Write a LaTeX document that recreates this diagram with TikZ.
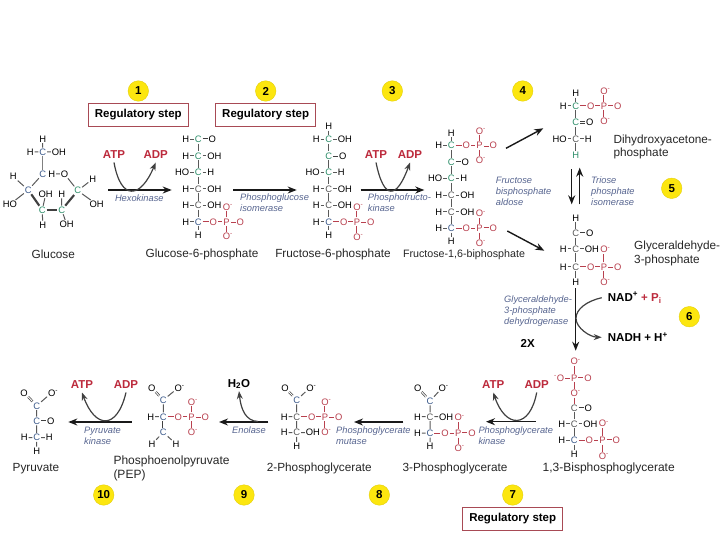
\documentclass[tikz,border=0pt]{standalone}
\usepackage{fontspec}
\setmainfont{Liberation Sans}
\usepackage{tikz}
\usetikzlibrary{positioning, arrows.meta}
\usepackage{xcolor}
\definecolor{cgreen}{HTML}{2F8F6B}
\definecolor{cblue}{HTML}{3E5C8C}
\definecolor{pred}{HTML}{B8404E}
\definecolor{labelred}{HTML}{BC2A3C}
\definecolor{enzblue}{HTML}{56648F}
\definecolor{boxred}{HTML}{A84A55}
\definecolor{badgey}{HTML}{FCE60F}
\newcommand{\Om}{O\rlap{\textsuperscript{-}}}

\begin{document}
\begin{tikzpicture}[
    x=1pt, y=-1pt,
    node distance=7.9pt and 3.7pt,
    atom/.style={font=\fontsize{9.4}{9.4}\selectfont, inner sep=0.8pt, text height=6.6pt, text depth=0pt, text=black},
    catg/.style={atom, text=cgreen},
    catb/.style={atom, text=cblue},
    catd/.style={atom, text=black!65},
    pat/.style={atom, text=pred},
    bond/.style={line width=1pt, black!65},
    dbond/.style={double=white, double distance=0.9pt, line width=0.7pt, black!75},
    wedge/.style={line width=2.1pt, black!75},
    pbond/.style={line width=1pt, pred},
    pdbond/.style={double=white, double distance=0.9pt, line width=0.7pt, pred},
    molname/.style={font=\fontsize{11.8}{13.6}\selectfont, align=left, inner sep=0pt, text=black!85},
    enzyme/.style={font=\fontsize{9.3}{11}\itshape, align=left, inner sep=0pt, anchor=west, text=enzblue},
    cofred/.style={font=\fontsize{11.5}{13}\bfseries, text=labelred},
    cofblack/.style={font=\fontsize{11.5}{13}\bfseries, text=black, anchor=west, inner xsep=6pt},
    badge/.style={circle, fill=badgey, draw=badgey!90!black, line width=0.4pt, minimum size=20.5pt, inner sep=0pt, font=\fontsize{11.5}{11.5}\bfseries},
    regbox/.style={draw=boxred, line width=1.1pt, minimum width=100pt, minimum height=22.5pt, inner sep=0pt, font=\fontsize{11.5}{13}\bfseries},
    flow/.style={line width=1.4pt, black!90, -{Stealth[length=9pt, width=7pt]}},
    cofactor/.style={line width=1.2pt, black!75},
    cofarrow/.style={cofactor, -{Stealth[length=8pt, width=6pt]}}
]
    \useasboundingbox (0,0) rectangle (720,540);

    % Step badges
    \node[badge] (step1) at (138.3,91) {1};
    \node[badge] (step2) at (265.7,91) {2};
    \node[badge] (step3) at (392.3,91) {3};
    \node[badge] (step4) at (522.7,91) {4};
    \node[badge] (step5) at (671.7,188.3) {5};
    \node[badge] (step6) at (689.3,316.7) {6};
    \node[badge] (step7) at (512.7,495) {7};
    \node[badge] (step8) at (379.3,495) {8};
    \node[badge] (step9) at (244,495) {9};
    \node[badge] (step10) at (103.7,495) {10};
    \node[regbox] (reg1) [below=1.6pt of step1] {Regulatory step};
    \node[regbox] (reg2) [below=1.6pt of step2] {Regulatory step};
    \node[regbox] (reg7) [below=1.6pt of step7] {Regulatory step};

    % Glucose
    \node[catb] (glc6) at (42.7,152) {C};
    \node[atom] (glh6) [above=4.6pt of glc6] {H};
    \node[atom] (gll6) [left=of glc6] {H};
    \node[atom] (glr6) [right=of glc6] {OH};
    \node[catb] (glc5) at (42.7,174) {C};
    \node[atom] (glh5) [right=0.3pt of glc5] {H};
    \node[atom] (glo5) [right=of glh5] {O};
    \node[catg] (glc1) at (77.7,190.7) {C};
    \node[atom] (glh1) at (92.7,179) {H};
    \node[atom] (glr1) at (96.7,204.3) {OH};
    \node[catb] (glc4) at (28.3,190) {C};
    \node[atom] (glh4) at (13.3,176.7) {H};
    \node[atom] (gll4) at (10,204.3) {HO};
    \node[catg] (glc3) at (42.3,210) {C};
    \node[atom] (glu3) at (45.7,194) {OH};
    \node[atom] (gld3) at (42.7,225) {H};
    \node[catg] (glc2) at (61.7,210) {C};
    \node[atom] (glu2) at (61.7,194) {H};
    \node[atom] (gld2) at (66.7,224.3) {OH};
    \draw[bond] (glh6) -- (glc6) (gll6) -- (glc6) (glc6) -- (glr6) (glh5) -- (glo5) (glo5) -- (glc1) (glc5) -- (glc4);
    \draw[bond] (glc1) -- (glh1) (glc1) -- (glr1) (glc4) -- (glh4) (glc4) -- (gll4);
    \draw[bond] (glc3) -- (glu3) (glc3) -- (gld3) (glc2) -- (glu2) (glc2) -- (gld2);
    \draw[line width=1.5pt, black!50] (glc6) -- (glc5);
    \draw[wedge] (glc4) -- (glc3);
    \draw[wedge] (glc3) -- (glc2);
    \draw[wedge] (glc2) -- (glc1);
    \node[molname] (glucose) at (53.3,254.3) {Glucose};

    % Glucose-6-phosphate
    \node[catg] (g6c1) at (198.3,139.3) {C};
    \node[atom] (g6l1) [left=of g6c1] {H};
    \node[atom] (g6r1) [right=5pt of g6c1] {O};
    \node[catg] (g6c2) [below=of g6c1] {C};
    \node[atom] (g6l2) [left=of g6c2] {H};
    \node[atom] (g6r2) [right=of g6c2] {OH};
    \node[catg] (g6c3) [below=of g6c2] {C};
    \node[atom] (g6l3) [left=of g6c3] {HO};
    \node[atom] (g6r3) [right=of g6c3] {H};
    \node[catd] (g6c4) [below=of g6c3] {C};
    \node[atom] (g6l4) [left=of g6c4] {H};
    \node[atom] (g6r4) [right=of g6c4] {OH};
    \node[catd] (g6c5) [below=of g6c4] {C};
    \node[atom] (g6l5) [left=of g6c5] {H};
    \node[atom] (g6r5) [right=of g6c5] {OH};
    \node[catb] (g6c6) [below=of g6c5] {C};
    \node[atom] (g6l6) [left=of g6c6] {H};
    \node[atom] (g6h6) [below=4.3pt of g6c6] {H};
    \node[pat] (g6o) [right=6pt of g6c6] {O};
    \node[pat] (g6p) [right=4.4pt of g6o] {P};
    \node[pat] (g6d) [right=5pt of g6p] {O};
    \node[pat] (g6u) [above=6pt of g6p] {\Om};
    \node[pat] (g6v) [below=6pt of g6p] {\Om};
    \draw[bond] (g6l1) -- (g6c1) (g6c1) -- (g6c2) (g6l2) -- (g6c2) (g6c2) -- (g6r2) (g6c2) -- (g6c3) (g6l3) -- (g6c3) (g6c3) -- (g6r3);
    \draw[bond] (g6c3) -- (g6c4) (g6l4) -- (g6c4) (g6c4) -- (g6r4) (g6c4) -- (g6c5) (g6l5) -- (g6c5) (g6c5) -- (g6r5);
    \draw[bond] (g6c5) -- (g6c6) (g6l6) -- (g6c6) (g6c6) -- (g6h6);
    \draw[dbond] (g6c1) -- (g6r1);
    \draw[pbond] (g6c6) -- (g6o) (g6o) -- (g6p) (g6p) -- (g6u) (g6p) -- (g6v);
    \draw[pdbond] (g6p) -- (g6d);
    \node[molname] (g6name) at (202,254.3) {Glucose-6-phosphate};

    % Fructose-6-phosphate
    \node[catg] (f6c1) at (328.7,139.3) {C};
    \node[atom] (f6h1) [above=4.3pt of f6c1] {H};
    \node[atom] (f6l1) [left=of f6c1] {H};
    \node[atom] (f6r1) [right=of f6c1] {OH};
    \node[catg] (f6c2) [below=of f6c1] {C};
    \node[atom] (f6r2) [right=5pt of f6c2] {O};
    \node[catg] (f6c3) [below=of f6c2] {C};
    \node[atom] (f6l3) [left=of f6c3] {HO};
    \node[atom] (f6r3) [right=of f6c3] {H};
    \node[catd] (f6c4) [below=of f6c3] {C};
    \node[atom] (f6l4) [left=of f6c4] {H};
    \node[atom] (f6r4) [right=of f6c4] {OH};
    \node[catd] (f6c5) [below=of f6c4] {C};
    \node[atom] (f6l5) [left=of f6c5] {H};
    \node[atom] (f6r5) [right=of f6c5] {OH};
    \node[catb] (f6c6) [below=of f6c5] {C};
    \node[atom] (f6l6) [left=of f6c6] {H};
    \node[atom] (f6h6) [below=4.3pt of f6c6] {H};
    \node[pat] (f6o) [right=6pt of f6c6] {O};
    \node[pat] (f6p) [right=4.4pt of f6o] {P};
    \node[pat] (f6d) [right=5pt of f6p] {O};
    \node[pat] (f6u) [above=6pt of f6p] {\Om};
    \node[pat] (f6v) [below=7pt of f6p] {\Om};
    \draw[bond] (f6h1) -- (f6c1) (f6l1) -- (f6c1) (f6c1) -- (f6r1) (f6c1) -- (f6c2) (f6c2) -- (f6c3) (f6l3) -- (f6c3) (f6c3) -- (f6r3);
    \draw[bond] (f6c3) -- (f6c4) (f6l4) -- (f6c4) (f6c4) -- (f6r4) (f6c4) -- (f6c5) (f6l5) -- (f6c5) (f6c5) -- (f6r5);
    \draw[bond] (f6c5) -- (f6c6) (f6l6) -- (f6c6) (f6c6) -- (f6h6);
    \draw[dbond] (f6c2) -- (f6r2);
    \draw[pbond] (f6c6) -- (f6o) (f6o) -- (f6p) (f6p) -- (f6u) (f6p) -- (f6v);
    \draw[pdbond] (f6p) -- (f6d);
    \node[molname] (f6name) at (333,254.3) {Fructose-6-phosphate};

    % Fructose-1,6-biphosphate
    \node[catg] (fbc1) at (451.3,145.7) {C};
    \node[atom] (fbh1) [above=4.3pt of fbc1] {H};
    \node[atom] (fbl1) [left=of fbc1] {H};
    \node[pat] (fbo1) [right=6pt of fbc1] {O};
    \node[pat] (fbp1) [right=4.4pt of fbo1] {P};
    \node[pat] (fbd1) [right=5pt of fbp1] {O};
    \node[pat] (fbu1) [above=6pt of fbp1] {\Om};
    \node[pat] (fbv1) [below=6pt of fbp1] {\Om};
    \node[catg] (fbc2) [below=of fbc1] {C};
    \node[atom] (fbr2) [right=5pt of fbc2] {O};
    \node[catg] (fbc3) [below=of fbc2] {C};
    \node[atom] (fbl3) [left=of fbc3] {HO};
    \node[atom] (fbr3) [right=of fbc3] {H};
    \node[catd] (fbc4) [below=of fbc3] {C};
    \node[atom] (fbl4) [left=of fbc4] {H};
    \node[atom] (fbr4) [right=of fbc4] {OH};
    \node[catd] (fbc5) [below=of fbc4] {C};
    \node[atom] (fbl5) [left=of fbc5] {H};
    \node[atom] (fbr5) [right=of fbc5] {OH};
    \node[catb] (fbc6) [below=of fbc5] {C};
    \node[atom] (fbl6) [left=of fbc6] {H};
    \node[atom] (fbh6) [below=4.6pt of fbc6] {H};
    \node[pat] (fbo6) [right=6pt of fbc6] {O};
    \node[pat] (fbp6) [right=4.4pt of fbo6] {P};
    \node[pat] (fbd6) [right=5pt of fbp6] {O};
    \node[pat] (fbu6) [above=6pt of fbp6] {\Om};
    \node[pat] (fbv6) [below=6.5pt of fbp6] {\Om};
    \draw[bond] (fbh1) -- (fbc1) (fbl1) -- (fbc1) (fbc1) -- (fbc2) (fbc2) -- (fbc3) (fbl3) -- (fbc3) (fbc3) -- (fbr3);
    \draw[bond] (fbc3) -- (fbc4) (fbl4) -- (fbc4) (fbc4) -- (fbr4) (fbc4) -- (fbc5) (fbl5) -- (fbc5) (fbc5) -- (fbr5);
    \draw[bond] (fbc5) -- (fbc6) (fbl6) -- (fbc6) (fbc6) -- (fbh6);
    \draw[dbond] (fbc2) -- (fbr2);
    \draw[pbond] (fbc1) -- (fbo1) (fbo1) -- (fbp1) (fbp1) -- (fbu1) (fbp1) -- (fbv1);
    \draw[pbond] (fbc6) -- (fbo6) (fbo6) -- (fbp6) (fbp6) -- (fbu6) (fbp6) -- (fbv6);
    \draw[pdbond] (fbp1) -- (fbd1);
    \draw[pdbond] (fbp6) -- (fbd6);
    \node[molname, font=\fontsize{10.7}{13}\selectfont] (fbname) at (464,254.7) {Fructose-1,6-biphosphate};

    % Dihydroxyacetone-phosphate
    \node[catg] (dhc1) at (575.7,106) {C};
    \node[atom] (dhh1) [above=4pt of dhc1] {H};
    \node[atom] (dhl1) [left=of dhc1] {H};
    \node[pat] (dho1) [right=6pt of dhc1] {O};
    \node[pat] (dhp1) [right=4.4pt of dho1] {P};
    \node[pat] (dhd1) [right=5pt of dhp1] {O};
    \node[pat] (dhu1) [above=6.6pt of dhp1] {\Om};
    \node[pat] (dhv1) [below=6.6pt of dhp1] {\Om};
    \node[catg] (dhc2) [below=of dhc1] {C};
    \node[atom] (dhr2) [right=5pt of dhc2] {O};
    \node[catd] (dhc3) [below=of dhc2] {C};
    \node[atom] (dhl3) [left=of dhc3] {HO};
    \node[atom] (dhr3) [right=of dhc3] {H};
    \node[catg] (dhh3) [below=of dhc3] {H};
    \draw[bond] (dhh1) -- (dhc1) (dhl1) -- (dhc1) (dhc1) -- (dhc2) (dhc2) -- (dhc3) (dhl3) -- (dhc3) (dhc3) -- (dhr3) (dhc3) -- (dhh3);
    \draw[dbond] (dhc2) -- (dhr2);
    \draw[pbond] (dhc1) -- (dho1) (dho1) -- (dhp1) (dhp1) -- (dhu1) (dhp1) -- (dhv1);
    \draw[pdbond] (dhp1) -- (dhd1);
    \node[molname, anchor=west] (dhname) at (613.3,147) {Dihydroxyacetone-\\phosphate};

    % Glyceraldehyde-3-phosphate
    \node[catd] (gac1) at (575.7,233.3) {C};
    \node[atom] (gah1) [above=6.8pt of gac1] {H};
    \node[atom] (gar1) [right=5pt of gac1] {O};
    \node[catd] (gac2) [below=6.9pt of gac1] {C};
    \node[atom] (gal2) [left=of gac2] {H};
    \node[atom] (gar2) [right=of gac2] {OH};
    \node[catd] (gac3) [below=9.3pt of gac2] {C};
    \node[atom] (gal3) [left=of gac3] {H};
    \node[atom] (gah3) [below=7pt of gac3] {H};
    \node[pat] (gao) [right=6pt of gac3] {O};
    \node[pat] (gap) [right=4.4pt of gao] {P};
    \node[pat] (gad) [right=5pt of gap] {O};
    \node[pat] (gau) [above=8.5pt of gap] {\Om};
    \node[pat] (gav) [below=7pt of gap] {\Om};
    \draw[bond] (gah1) -- (gac1) (gac1) -- (gac2) (gal2) -- (gac2) (gac2) -- (gar2) (gac2) -- (gac3) (gal3) -- (gac3) (gac3) -- (gah3);
    \draw[dbond] (gac1) -- (gar1);
    \draw[pbond] (gac3) -- (gao) (gao) -- (gap) (gap) -- (gau) (gap) -- (gav);
    \draw[pdbond] (gap) -- (gad);
    \node[molname, anchor=west] (ganame) at (634,253.7) {Glyceraldehyde-\\3-phosphate};

    % 1,3-Bisphosphoglycerate
    \node[catd] (bpc2) at (574.3,423.7) {C};
    \node[atom] (bpl2) [left=of bpc2] {H};
    \node[atom] (bpr2) [right=of bpc2] {OH};
    \node[catd] (bpc1) [above=7pt of bpc2] {C};
    \node[atom] (bpr1) [right=5pt of bpc1] {O};
    \node[pat] (bpo) [above=6.2pt of bpc1] {\Om};
    \node[pat] (bpp) [above=6.6pt of bpo] {P};
    \node[pat] (bpl) [left=5pt of bpp] {\llap{\textsuperscript{-}}O};
    \node[pat] (bpd) [right=5pt of bpp] {O};
    \node[pat] (bpu) [above=7.9pt of bpp] {\Om};
    \node[catb] (bpc3) [below=of bpc2] {C};
    \node[atom] (bpl3) [left=of bpc3] {H};
    \node[atom] (bph3) [below=5pt of bpc3] {H};
    \node[pat] (bpo3) [right=6pt of bpc3] {O};
    \node[pat] (bpp3) [right=4.4pt of bpo3] {P};
    \node[pat] (bpd3) [right=5pt of bpp3] {O};
    \node[pat] (bpu3) [above=8pt of bpp3] {\Om};
    \node[pat] (bpv3) [below=7.5pt of bpp3] {\Om};
    \draw[bond] (bpc2) -- (bpc1) (bpl2) -- (bpc2) (bpc2) -- (bpr2) (bpc2) -- (bpc3) (bpl3) -- (bpc3) (bpc3) -- (bph3);
    \draw[dbond] (bpc1) -- (bpr1);
    \draw[pbond] (bpu) -- (bpp) (bpl) -- (bpp) (bpp) -- (bpo) (bpo) -- (bpc1);
    \draw[pdbond] (bpp) -- (bpd);
    \draw[pbond] (bpc3) -- (bpo3) (bpo3) -- (bpp3) (bpp3) -- (bpu3) (bpp3) -- (bpv3);
    \draw[pdbond] (bpp3) -- (bpd3);
    \node[molname, font=\fontsize{12}{13.6}\selectfont] (bpname) at (608.7,468.3) {1,3-Bisphosphoglycerate};

    % 3-Phosphoglycerate
    \node[catb] (p3c1) at (430,401) {C};
    \node[atom] (p3o1) at (417.7,387.7) {O};
    \node[atom] (p3o2) at (442.3,387.7) {\Om};
    \node[catd] (p3c2) at (430,416.7) {C};
    \node[atom] (p3l2) [left=of p3c2] {H};
    \node[atom] (p3r2) [right=of p3c2] {OH};
    \node[catb] (p3c3) [below=of p3c2] {C};
    \node[atom] (p3l3) [left=of p3c3] {H};
    \node[atom] (p3h3) [below=4.6pt of p3c3] {H};
    \node[pat] (p3o) [right=6pt of p3c3] {O};
    \node[pat] (p3p) [right=4.4pt of p3o] {P};
    \node[pat] (p3d) [right=5pt of p3p] {O};
    \node[pat] (p3u) [above=7pt of p3p] {\Om};
    \node[pat] (p3v) [below=6.4pt of p3p] {\Om};
    \draw[bond] (p3c1) -- (p3o2) (p3c1) -- (p3c2) (p3l2) -- (p3c2) (p3c2) -- (p3r2) (p3c2) -- (p3c3) (p3l3) -- (p3c3) (p3c3) -- (p3h3);
    \draw[dbond] (p3c1) -- (p3o1);
    \draw[pbond] (p3c3) -- (p3o) (p3o) -- (p3p) (p3p) -- (p3u) (p3p) -- (p3v);
    \draw[pdbond] (p3p) -- (p3d);
    \node[molname] (p3name) at (455,468.3) {3-Phosphoglycerate};

    % 2-Phosphoglycerate
    \node[catb] (p2c1) at (296.7,400) {C};
    \node[atom] (p2o1) at (285,387.7) {O};
    \node[atom] (p2o2) at (310,387.7) {\Om};
    \node[catd] (p2c2) at (296.7,416.7) {C};
    \node[atom] (p2l2) [left=of p2c2] {H};
    \node[pat] (p2o) [right=6pt of p2c2] {O};
    \node[pat] (p2p) [right=4.4pt of p2o] {P};
    \node[pat] (p2d) [right=5pt of p2p] {O};
    \node[pat] (p2u) [above=6pt of p2p] {\Om};
    \node[pat] (p2v) [below=7pt of p2p] {\Om};
    \node[catd] (p2c3) [below=7.2pt of p2c2] {C};
    \node[atom] (p2l3) [left=of p2c3] {H};
    \node[atom] (p2r3) [right=of p2c3] {OH};
    \node[atom] (p2h3) [below=5pt of p2c3] {H};
    \draw[bond] (p2c1) -- (p2o2) (p2c1) -- (p2c2) (p2l2) -- (p2c2) (p2c2) -- (p2c3) (p2l3) -- (p2c3) (p2c3) -- (p2r3) (p2c3) -- (p2h3);
    \draw[dbond] (p2c1) -- (p2o1);
    \draw[pbond] (p2c2) -- (p2o) (p2o) -- (p2p) (p2p) -- (p2u) (p2p) -- (p2v);
    \draw[pdbond] (p2p) -- (p2d);
    \node[molname] (p2name) at (319.3,468.3) {2-Phosphoglycerate};

    % Phosphoenolpyruvate
    \node[catb] (pec1) at (163.3,400) {C};
    \node[atom] (peo1) at (151.7,387.7) {O};
    \node[atom] (peo2) at (178.3,387.7) {\Om};
    \node[catb] (pec2) at (163.3,416.7) {C};
    \node[atom] (pel2) [left=of pec2] {H};
    \node[pat] (peo) [right=6pt of pec2] {O};
    \node[pat] (pep) [right=4.4pt of peo] {P};
    \node[pat] (ped) [right=5pt of pep] {O};
    \node[pat] (peu) [above=6pt of pep] {\Om};
    \node[pat] (pev) [below=6.8pt of pep] {\Om};
    \node[catb] (pec3) [below=7pt of pec2] {C};
    \node[atom] (peh3) at (152,444) {H};
    \node[atom] (peh4) at (176,444) {H};
    \draw[bond] (pec1) -- (peo2) (pec1) -- (pec2) (pel2) -- (pec2) (pec3) -- (peh3) (pec3) -- (peh4);
    \draw[dbond] (pec1) -- (peo1);
    \draw[dbond] (pec2) -- (pec3);
    \draw[pbond] (pec2) -- (peo) (peo) -- (pep) (pep) -- (peu) (pep) -- (pev);
    \draw[pdbond] (pep) -- (ped);
    \node[molname, font=\fontsize{12}{13.6}\selectfont, anchor=west] (pename) at (113.3,468.3) {Phosphoenolpyruvate\\(PEP)};

    % Pyruvate
    \node[catb] (pyc1) at (36.7,405.7) {C};
    \node[atom] (pyo1) at (24,392.7) {O};
    \node[atom] (pyo2) at (51.7,392.7) {\Om};
    \node[catb] (pyc2) at (36.7,421) {C};
    \node[atom] (pyr2) [right=5pt of pyc2] {O};
    \node[catb] (pyc3) [below=of pyc2] {C};
    \node[atom] (pyl3) [left=of pyc3] {H};
    \node[atom] (pyr3) [right=of pyc3] {H};
    \node[atom] (pyh3) [below=4.9pt of pyc3] {H};
    \draw[bond] (pyc1) -- (pyo2) (pyc1) -- (pyc2) (pyc2) -- (pyc3) (pyl3) -- (pyc3) (pyc3) -- (pyr3) (pyc3) -- (pyh3);
    \draw[dbond] (pyc1) -- (pyo1);
    \draw[dbond] (pyc2) -- (pyr2);
    \node[molname] (pyname) at (36,468.3) {Pyruvate};

    % Upper reactions
    \coordinate (s1a) at (108.3,190);
    \coordinate (s1b) at (171.7,190);
    \node[cofred] (atp1) at (114,155) {ATP};
    \node[cofred] (adp1) at (155.7,155) {ADP};
    \draw[flow] (s1a) -- (s1b);
    \draw[cofarrow] (atp1.south) .. controls +(7,39) and +(-15,36) .. (adp1.south);
    \node[enzyme] (enz1) at (114.8,197.7) {Hexokinase};

    \coordinate (s2a) at (233.3,190);
    \coordinate (s2b) at (296.7,190);
    \draw[flow] (s2a) -- (s2b);
    \node[enzyme] (enz2) at (240,202.8) {Phosphoglucose\\isomerase};

    \coordinate (s3a) at (360.7,190);
    \coordinate (s3b) at (424.3,190);
    \node[cofred] (atp3) at (376,155) {ATP};
    \node[cofred] (adp3) at (410,155) {ADP};
    \draw[flow] (s3a) -- (s3b);
    \draw[cofarrow] (atp3.south) .. controls +(8,39) and +(-13,36) .. (adp3.south);
    \node[enzyme] (enz3) at (367.7,202.8) {Phosphofructo-\\kinase};

    \coordinate (s4a) at (506,148.3);
    \coordinate (s4b) at (543.3,128.3);
    \coordinate (s4c) at (507.3,231);
    \coordinate (s4d) at (544.3,250.7);
    \draw[flow] (s4a) -- (s4b);
    \draw[flow] (s4c) -- (s4d);
    \node[enzyme] (enz4) at (495.7,191) {Fructose\\bisphosphate\\aldose};

    \coordinate (s5a) at (571.7,169.3);
    \coordinate (s5b) at (571.7,204.3);
    \coordinate (s5c) at (579.7,204.3);
    \coordinate (s5d) at (579.7,167.7);
    \draw[flow] (s5a) -- (s5b);
    \draw[flow] (s5c) -- (s5d);
    \node[enzyme] (enz5) at (591,191) {Triose\\phosphate\\isomerase};

    \coordinate (s6a) at (575.7,288.3);
    \coordinate (s6b) at (575.7,350.7);
    \node[cofblack] (nad) at (601.7,297.7) {NAD\textsuperscript{+} \textcolor{labelred}{+ P\textsubscript{i}}};
    \node[cofblack] (nadh) at (601.7,337.3) {NADH + H\textsuperscript{+}};
    \draw[flow] (s6a) -- (s6b);
    \draw[cofarrow] (nad.west) .. controls (587,301) and (576,309) .. (576,318.3) .. controls (576,328) and (590,337) .. (nadh.west);
    \node[enzyme] (enz6) at (504,310.8) {Glyceraldehyde-\\3-phosphate\\dehydrogenase};
    \node[font=\fontsize{11.5}{13}\bfseries] (twox) at (527.7,343.3) {2X};

    % Lower reactions
    \coordinate (s7a) at (535.7,421.7);
    \coordinate (s7b) at (486,421.7);
    \node[cofred] (atp7) at (493.3,385) {ATP};
    \node[cofred] (adp7) at (536.7,385) {ADP};
    \draw[flow] (s7a) -- (s7b);
    \draw[cofarrow] (adp7.south) .. controls +(-7,37) and +(12,36) .. (atp7.south);
    \node[enzyme] (enz7) at (478.3,435.5) {Phosphoglycerate\\kinase};

    \coordinate (s8a) at (403.3,422);
    \coordinate (s8b) at (354,422);
    \draw[flow] (s8a) -- (s8b);
    \node[enzyme] (enz8) at (336,435.5) {Phosphoglycerate\\mutase};

    \coordinate (s9a) at (268.3,422);
    \coordinate (s9b) at (219,422);
    \coordinate (s9c) at (258,421.5);
    \node[font=\fontsize{11.5}{13}\bfseries, inner sep=2pt] (water) at (239,384) {H\textsubscript{2}O};
    \draw[flow] (s9a) -- (s9b);
    \draw[cofarrow] (s9c) .. controls (246,421) and (241,410) .. (water.south);
    \node[enzyme] (enz9) at (232,430) {Enolase};

    \coordinate (s10a) at (131.7,422);
    \coordinate (s10b) at (68.3,422);
    \node[cofred] (atp10) at (82,385) {ATP};
    \node[cofred] (adp10) at (126,385) {ADP};
    \draw[flow] (s10a) -- (s10b);
    \draw[cofarrow] (adp10.south) .. controls +(-9,38) and +(13,36) .. (atp10.south);
    \node[enzyme] (enz10) at (84,435.5) {Pyruvate\\kinase};

\end{tikzpicture}
\end{document}
